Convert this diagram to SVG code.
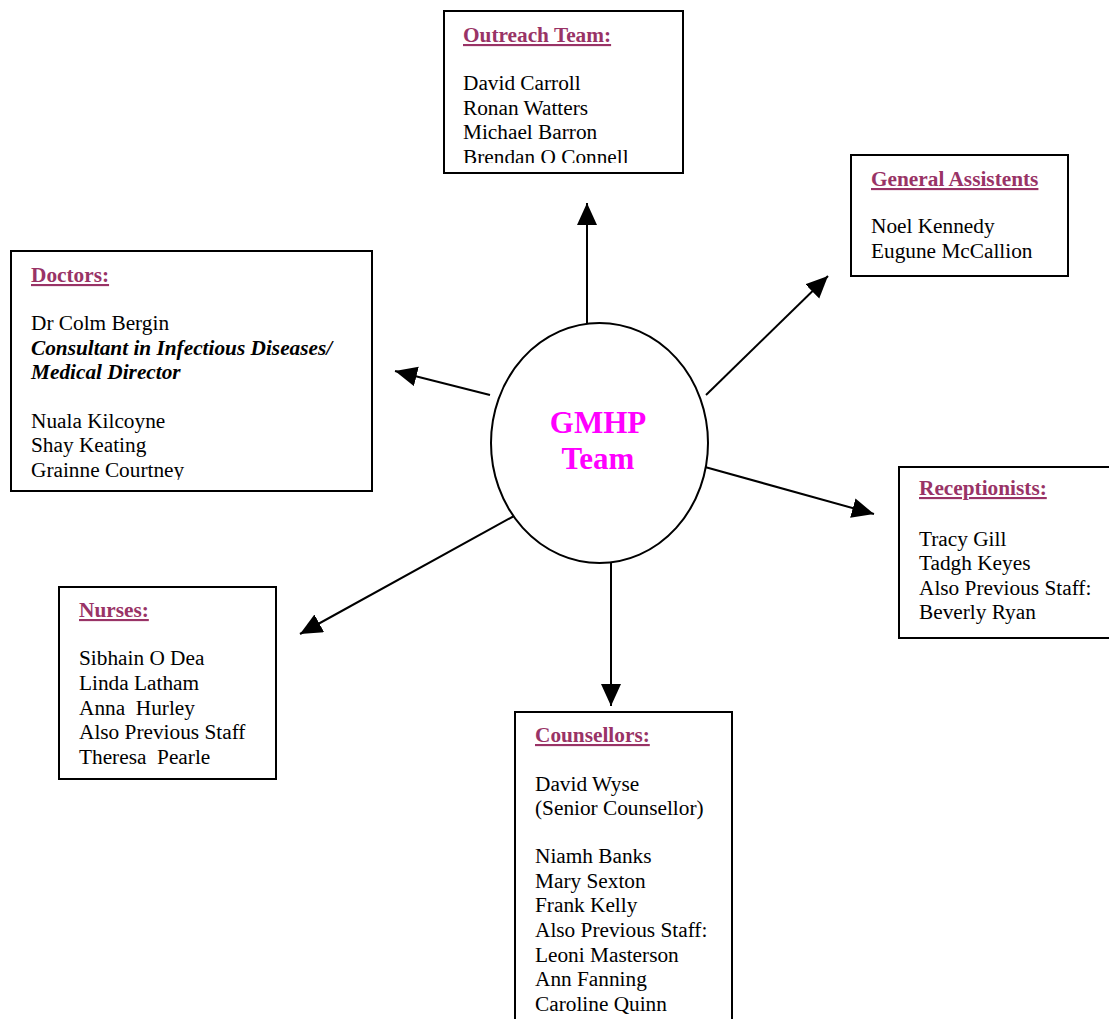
<svg xmlns="http://www.w3.org/2000/svg" width="1109" height="1019" viewBox="0 0 1109 1019">
<style>
.box{fill:#fff;stroke:#000;stroke-width:2}
.t{font-family:"Liberation Serif","Times New Roman",serif;font-size:21.3px;fill:#000}
.h{font-family:"Liberation Serif","Times New Roman",serif;font-size:21.3px;font-weight:bold;fill:#993366;text-decoration:underline}
.bi{font-weight:bold;font-style:italic}
.con{stroke:#000;stroke-width:2;fill:none;marker-end:url(#ah)}
.hub{fill:#fff;stroke:#000;stroke-width:2}
.ht{font-family:"Liberation Serif","Times New Roman",serif;font-size:31px;font-weight:bold;fill:#ff00ff;text-anchor:middle}
</style>
<defs>
<marker id="ah" markerUnits="userSpaceOnUse" markerWidth="24" markerHeight="22" refX="22" refY="10" orient="auto">
<path d="M0,0 L22,10 L0,20 Z" fill="#000"/>
</marker>
<clipPath id="cOut"><rect x="444" y="11" width="239" height="152"/></clipPath>
<clipPath id="cDoc"><rect x="11" y="251" width="361" height="229"/></clipPath>
</defs>
<g id="connectors">
<line class="con" x1="587" y1="323" x2="587" y2="203"/>
<line class="con" x1="490" y1="395" x2="395" y2="371"/>
<line class="con" x1="706" y1="395" x2="828" y2="276"/>
<line class="con" x1="705" y1="467" x2="874" y2="514"/>
<line class="con" x1="514" y1="516" x2="300" y2="634"/>
<line class="con" x1="611" y1="563" x2="611" y2="706"/>
</g>
<g id="hub">
<ellipse class="hub" cx="599.5" cy="443" rx="108.5" ry="120"/>
<text class="ht" x="598" y="433">GMHP</text>
<text class="ht" x="598" y="469">Team</text>
</g>
<g id="outreach">
<rect class="box" x="444" y="11" width="239" height="162"/>
<text class="h" x="463" y="42">Outreach Team:</text>
<g clip-path="url(#cOut)">
<text class="t" x="463" y="90">David Carroll</text>
<text class="t" x="463" y="115">Ronan Watters</text>
<text class="t" x="463" y="139">Michael Barron</text>
<text class="t" x="463" y="164">Brendan O Connell</text>
</g>
</g>
<g id="general">
<rect class="box" x="851" y="155" width="217" height="121"/>
<text class="h" x="871" y="186">General Assistents</text>
<text class="t" x="871" y="233">Noel Kennedy</text>
<text class="t" x="871" y="258">Eugune McCallion</text>
</g>
<g id="doctors">
<rect class="box" x="11" y="251" width="361" height="240"/>
<text class="h" x="31" y="282">Doctors:</text>
<g clip-path="url(#cDoc)">
<text class="t" x="31" y="330">Dr Colm Bergin</text>
<text class="t bi" x="31" y="355">Consultant in Infectious Diseases/</text>
<text class="t bi" x="31" y="379">Medical Director</text>
<text class="t" x="31" y="428">Nuala Kilcoyne</text>
<text class="t" x="31" y="452">Shay Keating</text>
<text class="t" x="31" y="477">Grainne Courtney</text>
</g>
</g>
<g id="receptionists">
<rect class="box" x="899" y="467" width="212" height="171"/>
<text class="h" x="919" y="495">Receptionists:</text>
<text class="t" x="919" y="546">Tracy Gill</text>
<text class="t" x="919" y="570">Tadgh Keyes</text>
<text class="t" x="919" y="595">Also Previous Staff:</text>
<text class="t" x="919" y="619">Beverly Ryan</text>
</g>
<g id="nurses">
<rect class="box" x="59" y="587" width="217" height="192"/>
<text class="h" x="79" y="617">Nurses:</text>
<text class="t" x="79" y="665" xml:space="preserve">Sibhain O Dea</text>
<text class="t" x="79" y="690" xml:space="preserve">Linda Latham</text>
<text class="t" x="79" y="715" xml:space="preserve">Anna  Hurley</text>
<text class="t" x="79" y="739" xml:space="preserve">Also Previous Staff</text>
<text class="t" x="79" y="764" xml:space="preserve">Theresa  Pearle</text>
</g>
<g id="counsellors">
<rect class="box" x="515" y="712" width="217" height="320"/>
<text class="h" x="535" y="742">Counsellors:</text>
<text class="t" x="535" y="791">David Wyse</text>
<text class="t" x="535" y="815">(Senior Counsellor)</text>
<text class="t" x="535" y="863">Niamh Banks</text>
<text class="t" x="535" y="888">Mary Sexton</text>
<text class="t" x="535" y="912">Frank Kelly</text>
<text class="t" x="535" y="937">Also Previous Staff:</text>
<text class="t" x="535" y="962">Leoni Masterson</text>
<text class="t" x="535" y="986">Ann Fanning</text>
<text class="t" x="535" y="1011">Caroline Quinn</text>
</g>
</svg>
